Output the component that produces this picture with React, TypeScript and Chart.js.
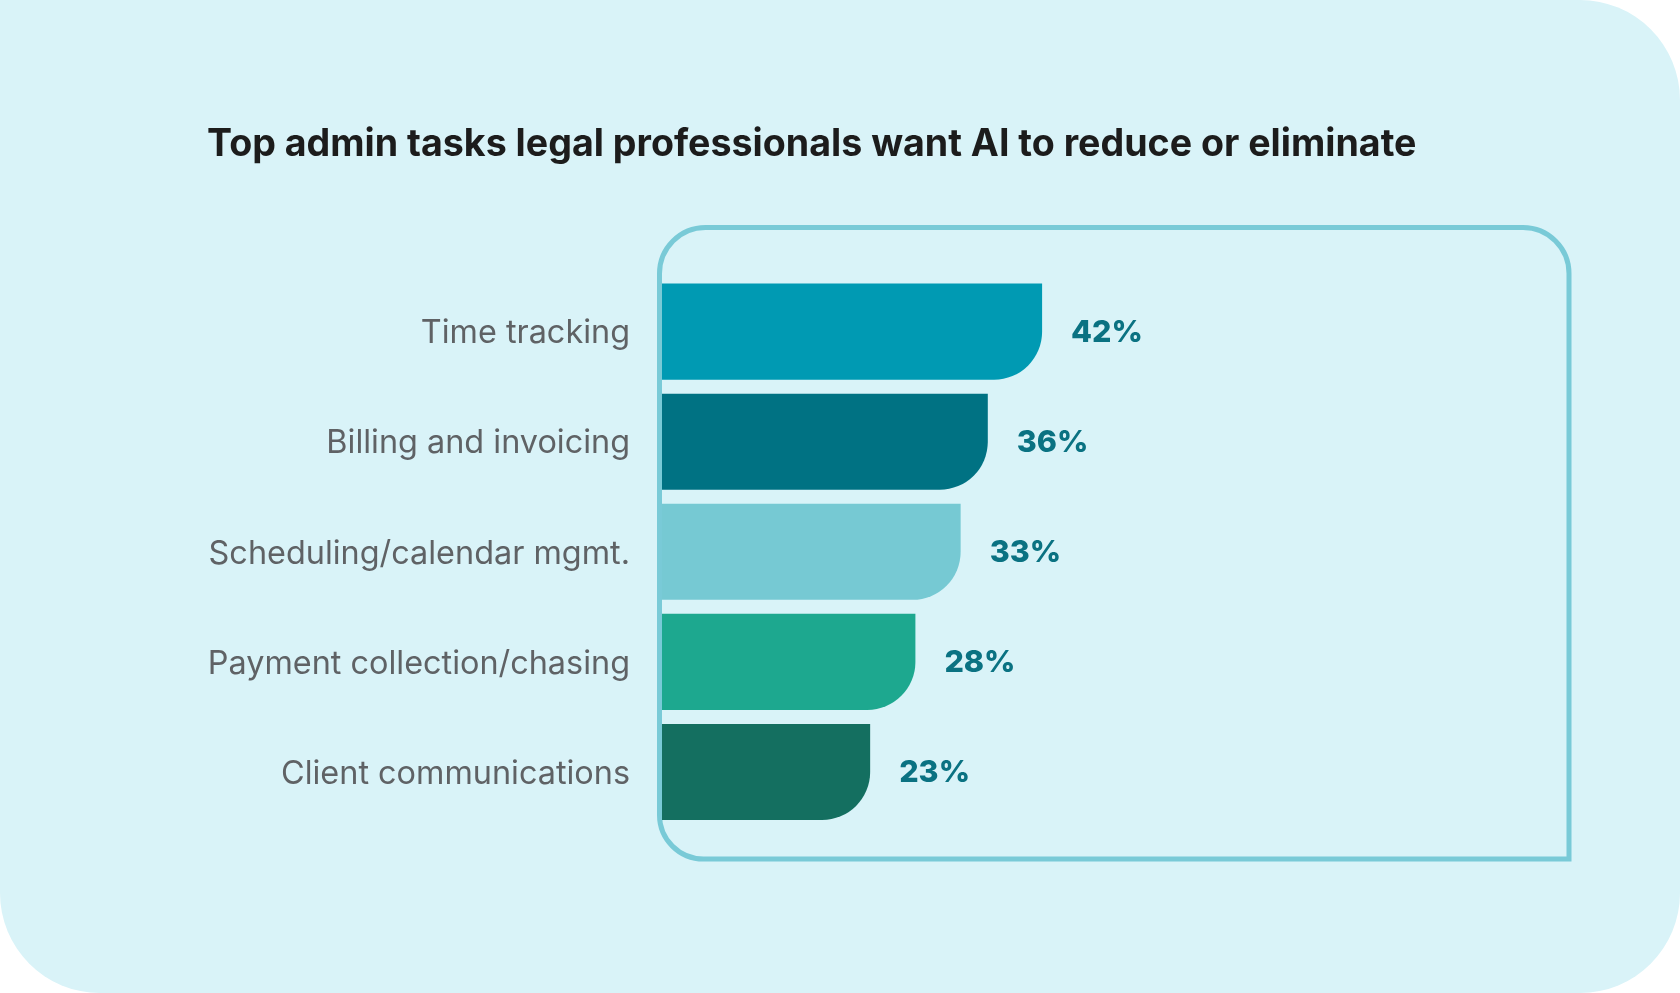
import React, { useEffect, useRef } from 'react';
import { Chart, registerables } from 'chart.js';

Chart.register(...registerables);

const TITLE = 'Top admin tasks legal professionals want AI to reduce or eliminate';
const tasks = [
  'Time tracking',
  'Billing and invoicing',
  'Scheduling/calendar mgmt.',
  'Payment collection/chasing',
  'Client communications',
];
const shares = [42, 36, 33, 28, 23];
const barColors = ['#009ab3', '#007283', '#76c9d3', '#1da88f', '#146f60'];

const FONT = 'Inter, "Noto Sans", sans-serif';

// light cyan card behind everything
const cardBg = {
  id: 'cardBg',
  beforeDraw(chart: any) {
    const { ctx, width, height } = chart;
    ctx.save();
    ctx.fillStyle = '#d9f3f8';
    ctx.beginPath();
    ctx.roundRect(0, 0, width, height, [0, 100, 100, 100]);
    ctx.fill();
    ctx.restore();
  },
};

// outlined frame around the bars, square at bottom right
const frame = {
  id: 'frame',
  beforeDatasetsDraw(chart: any) {
    const { ctx, chartArea: a } = chart;
    const l = a.left - 2.5, t = a.top - 49, r = a.right + 2, b = a.bottom + 32;
    ctx.save();
    ctx.strokeStyle = '#79cad7';
    ctx.lineWidth = 5;
    ctx.beginPath();
    ctx.roundRect(l, t, r - l, b - t, [46, 46, 0, 44]);
    ctx.stroke();
    ctx.restore();
  },
};

const valueLabels = {
  id: 'valueLabels',
  afterDatasetsDraw(chart: any) {
    const { ctx } = chart;
    const meta = chart.getDatasetMeta(0);
    ctx.save();
    ctx.font = `800 30.5px ${FONT}`;
    ctx.fillStyle = '#0a7282';
    ctx.textAlign = 'left';
    ctx.textBaseline = 'middle';
    meta.data.forEach((bar: any, i: number) => {
      ctx.fillText(`${shares[i]}%`, bar.x + 29, bar.y + 1);
    });
    ctx.restore();
  },
};

export default function App() {
  const canvasRef = useRef<HTMLCanvasElement>(null);
  useEffect(() => {
    document.body.style.margin = '0';
    const ctx = canvasRef.current!.getContext('2d')!;
    const chart = new Chart(ctx, {
      type: 'bar',
      data: {
        labels: tasks,
        datasets: [{
          data: shares,
          backgroundColor: barColors,
          borderRadius: { topLeft: 0, topRight: 0, bottomLeft: 0, bottomRight: 48 },
          borderSkipped: 'start',
          barPercentage: 96 / 110,
          categoryPercentage: 1,
        }],
      },
      options: {
        indexAxis: 'y',
        responsive: true,
        maintainAspectRatio: false,
        animation: false,
        layout: { padding: { left: 207, right: 113, top: 0, bottom: 166 } },
        plugins: {
          legend: { display: false },
          tooltip: { enabled: false },
          title: {
            display: true,
            text: TITLE,
            align: 'start',
            color: '#1c1c1c',
            font: { family: FONT, size: 37.6, weight: 700, lineHeight: 1.2 },
            padding: { top: 122, bottom: 109.5 },
          },
        },
        scales: {
          x: { display: false, min: 0, max: 100 },
          y: {
            grid: { display: false, drawTicks: false },
            border: { display: false },
            ticks: { color: '#5f6265', font: { family: FONT, size: 32.4 }, padding: 32, labelOffset: 2 },
            afterFit: (s: any) => { s.width = 455; },
          },
        },
      },
      plugins: [cardBg, frame, valueLabels],
    } as any);
    return () => chart.destroy();
  }, []);
  return (
    <div style={{ position: 'relative', width: 1680, height: 993 }}>
      <canvas ref={canvasRef} aria-label="Top admin tasks legal professionals want AI to reduce or eliminate"></canvas>
    </div>
  );
}
